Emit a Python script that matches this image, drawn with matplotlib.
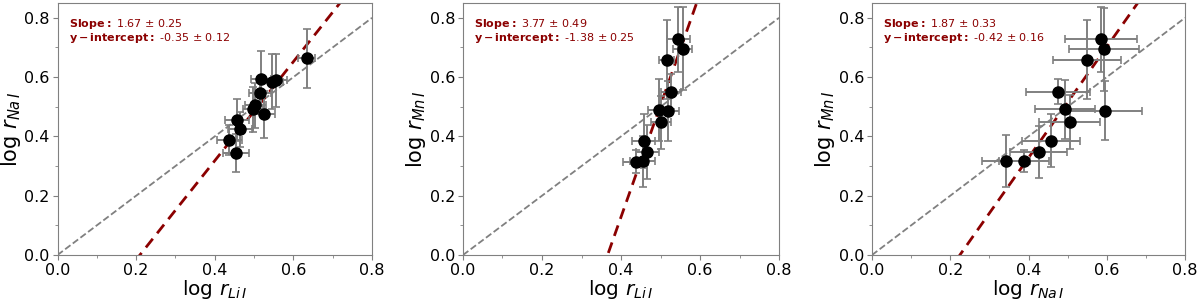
import matplotlib
matplotlib.use("Agg")
import matplotlib.pyplot as plt
import numpy as np
from matplotlib.ticker import MultipleLocator

# Panel 1: log r_LiI vs log r_NaI
li_1 = [0.634, 0.518, 0.545, 0.557, 0.515, 0.503, 0.497, 0.526, 0.457, 0.464, 0.437, 0.454]
na_1 = [0.663, 0.595, 0.584, 0.589, 0.546, 0.505, 0.492, 0.474, 0.455, 0.424, 0.388, 0.344]
li_1_err = [0.022, 0.025, 0.028, 0.028, 0.027, 0.027, 0.026, 0.028, 0.030, 0.030, 0.032, 0.034]
na_1_err = [0.099, 0.093, 0.093, 0.089, 0.055, 0.076, 0.076, 0.079, 0.072, 0.060, 0.050, 0.063]

# Panel 2: log r_LiI vs log r_MnI
li_2 = [0.545, 0.556, 0.516, 0.527, 0.495, 0.520, 0.501, 0.457, 0.467, 0.437, 0.455]
mn_2 = [0.727, 0.695, 0.658, 0.551, 0.489, 0.486, 0.447, 0.384, 0.347, 0.315, 0.316]
li_2_err = [0.029, 0.024, 0.019, 0.025, 0.027, 0.027, 0.026, 0.030, 0.030, 0.032, 0.032]
mn_2_err = [0.110, 0.140, 0.133, 0.060, 0.105, 0.100, 0.090, 0.090, 0.090, 0.040, 0.085]

# Panel 3: log r_NaI vs log r_MnI
na_3 = [0.585, 0.593, 0.549, 0.475, 0.494, 0.596, 0.505, 0.457, 0.426, 0.343, 0.388]
mn_3 = [0.727, 0.694, 0.658, 0.551, 0.491, 0.487, 0.449, 0.386, 0.347, 0.317, 0.316]
na_3_err = [0.092, 0.089, 0.087, 0.082, 0.077, 0.093, 0.079, 0.074, 0.073, 0.062, 0.064]
mn_3_err = [0.110, 0.140, 0.133, 0.042, 0.100, 0.100, 0.090, 0.090, 0.088, 0.088, 0.037]

# fit results (slope, err, intercept, err)
fits = [(1.67, 0.25, -0.35, 0.12), (3.77, 0.49, -1.38, 0.25), (1.87, 0.33, -0.42, 0.16)]

panels = [
    (li_1, na_1, li_1_err, na_1_err, r"log $r_{Li\,I}$", r"log $r_{Na\,I}$"),
    (li_2, mn_2, li_2_err, mn_2_err, r"log $r_{Li\,I}$", r"log $r_{Mn\,I}$"),
    (na_3, mn_3, na_3_err, mn_3_err, r"log $r_{Na\,I}$", r"log $r_{Mn\,I}$"),
]

W, H = 1200, 303
fig = plt.figure(figsize=(12, 3.03), dpi=100)
# axes boxes in pixels: left, right
boxes = [(57.5, 372), (463, 779), (872, 1185)]
top, bottom = 3, 255

xline = np.linspace(0, 0.8, 50)
for (l, r), (x, y, xe, ye, xl, yl), (s, se, b, be) in zip(boxes, panels, fits):
    ax = fig.add_axes([l / W, (H - bottom) / H, (r - l) / W, (bottom - top) / H])
    ax.plot(xline, xline, ls="--", color="gray", lw=1.3, zorder=1)
    ax.plot(xline, s * xline + b, ls="--", color="darkred", lw=2, dashes=(4, 2.5), zorder=2)
    ax.errorbar(x, y, xerr=xe, yerr=ye, fmt="o", color="black", ms=8,
                ecolor="gray", elinewidth=1.4, capsize=2.8, capthick=1.2, zorder=3)
    ax.set_xlim(0, 0.8)
    ax.set_ylim(0, 0.85)
    ax.xaxis.set_major_locator(MultipleLocator(0.2))
    ax.yaxis.set_major_locator(MultipleLocator(0.2))
    ax.xaxis.set_minor_locator(MultipleLocator(0.1))
    ax.yaxis.set_minor_locator(MultipleLocator(0.1))
    ax.tick_params(which="both", labelsize=11.5, color="gray", pad=2)
    for sp in ax.spines.values():
        sp.set_color("gray")
    ax.set_xlabel(xl, fontsize=14.5, labelpad=0)
    ax.set_ylabel(yl, fontsize=15, labelpad=1)
    ax.text(0.035, 0.945, r"$\bf{Slope:}$ " + f"{s:.2f} $\\pm$ {se:.2f}",
            transform=ax.transAxes, color="darkred", fontsize=8, va="top")
    ax.text(0.035, 0.89, r"$\bf{y-intercept:}$ " + f"{b:.2f} $\\pm$ {be:.2f}",
            transform=ax.transAxes, color="darkred", fontsize=8, va="top")

fig.savefig("out.png", dpi=100)
